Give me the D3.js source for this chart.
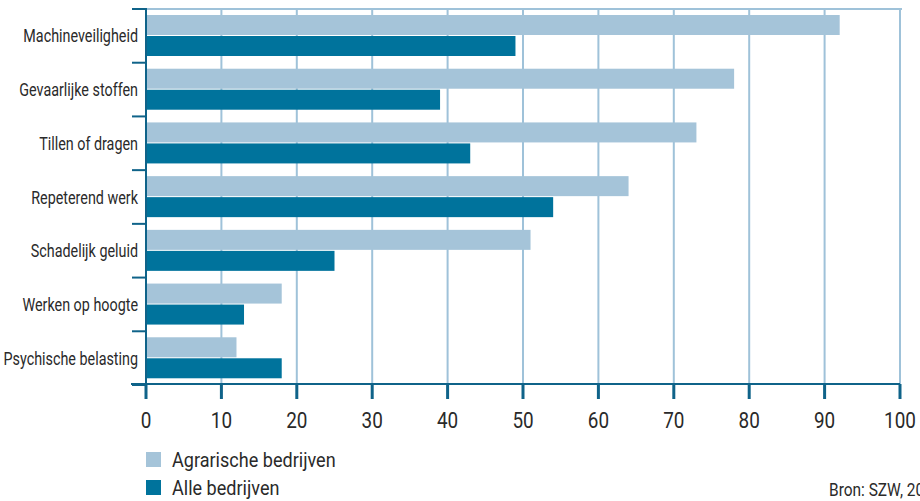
<!DOCTYPE html>
<html><head><meta charset="utf-8">
<script src="https://cdn.jsdelivr.net/npm/d3@7"></script>
<style>
body{margin:0;background:#fff;}
text{font-family:"Roboto","Liberation Sans",sans-serif;fill:#2a2a2a;}
</style></head><body>
<svg id="c" width="920" height="501"></svg>
<script>
const categories = ["Machineveiligheid","Gevaarlijke stoffen","Tillen of dragen","Repeterend werk","Schadelijk geluid","Werken op hoogte","Psychische belasting"];
const agrarisch = [92,78,73,64,51,18,12];
const alle = [49,39,43,54,25,13,18];
const seriesNames = ["Agrarische bedrijven","Alle bedrijven"];
const xTicks = [0,10,20,30,40,50,60,70,80,90,100];
const source = "Bron: SZW, 2008";

const colors = ["#a5c4d9","#00739c"];
const axisColor = "#0f6389";
const gridColor = "#9fc2d9";

const svg = d3.select("#c");
const L = 146, R = 900, T = 8, B = 384;
const x = d3.scaleLinear().domain([0,100]).range([L,R]);
const y = d3.scaleBand().domain(categories).range([T,B]);

function ctext(sel, px, py, size, sx, anchor){
  return sel.attr("transform",(d,i)=>`translate(${typeof px==="function"?px(d,i):px},${typeof py==="function"?py(d,i):py}) scale(${sx},1)`)
    .attr("font-size",size).attr("text-anchor",anchor||"start");
}

// grid
svg.append("g").selectAll("line").data(xTicks.slice(1)).join("line")
  .attr("x1",d=>x(d)).attr("x2",d=>x(d)).attr("y1",T).attr("y2",B)
  .attr("stroke",gridColor).attr("stroke-width",2);
svg.append("line").attr("x1",L).attr("x2",R+2).attr("y1",T+1).attr("y2",T+1)
  .attr("stroke",gridColor).attr("stroke-width",2);

// bars
const bh = 20;
const g = svg.append("g");
categories.forEach((c,i)=>{
  const y0 = y(c);
  g.append("rect").attr("x",x(0)).attr("y",y0+7).attr("width",x(agrarisch[i])-x(0)).attr("height",bh).attr("fill",colors[0]);
  g.append("rect").attr("x",x(0)).attr("y",y0+7+bh+1).attr("width",x(alle[i])-x(0)).attr("height",bh).attr("fill",colors[1]);
});

// y axis
svg.append("line").attr("x1",L).attr("x2",L).attr("y1",T).attr("y2",B+1)
  .attr("stroke",axisColor).attr("stroke-width",2);
const yTickPos = categories.map(c=>y(c)).concat([B]);
svg.append("g").selectAll("line").data(yTickPos).join("line")
  .attr("x1",132).attr("x2",L).attr("y1",d=>d+1).attr("y2",d=>d+1)
  .attr("stroke",axisColor).attr("stroke-width",2);
ctext(svg.append("g").selectAll("text").data(categories).join("text"),
  138, c=>y(c)+y.bandwidth()/2+7.5, 19, 0.755, "end").text(d=>d);

// x axis
svg.append("line").attr("x1",131).attr("x2",R).attr("y1",B).attr("y2",B)
  .attr("stroke",axisColor).attr("stroke-width",2);
svg.append("g").selectAll("line").data(xTicks).join("line")
  .attr("x1",d=>x(d)).attr("x2",d=>x(d)).attr("y1",B).attr("y2",B+15)
  .attr("stroke",axisColor).attr("stroke-width",3);
ctext(svg.append("g").selectAll("text").data(xTicks).join("text"),
  d=>x(d), 428, 22, 0.86, "middle").text(d=>d);

// legend
seriesNames.forEach((s,i)=>{
  svg.append("rect").attr("x",146).attr("y",452+i*28).attr("width",15).attr("height",15).attr("fill",colors[i]);
  ctext(svg.append("text"), 172, 467+i*28, 21, 0.86).text(s);
});
ctext(svg.append("text"), 829, 496, 18, 0.86).text(source);
</script></body></html>
